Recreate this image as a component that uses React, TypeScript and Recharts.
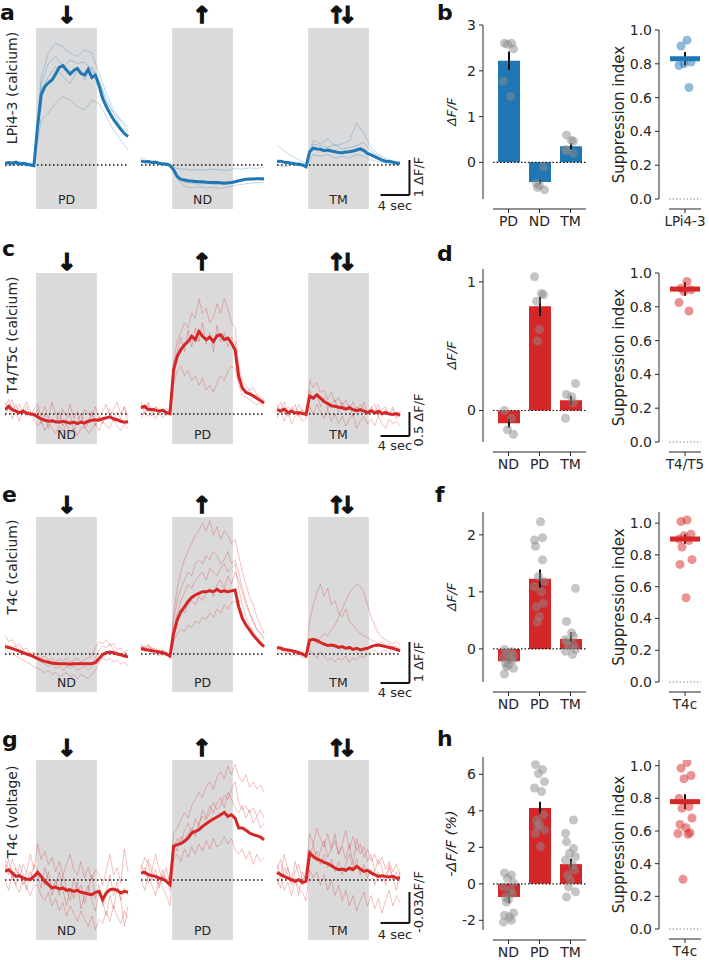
import React from "react";
import {
  Bar,
  ComposedChart,
  ErrorBar,
  Line,
  LineChart,
  ReferenceArea,
  ReferenceLine,
  Scatter,
  XAxis,
  YAxis,
} from "recharts";

const FONT = "'DejaVu Sans', Verdana, sans-serif";
const INK = "#262626";
const BLUE = "#1f77b4";
const RED = "#d62728";
const STIM_GRAY = "#dadada";

// time axis of the traces, seconds (one panel = 17 s, stimulus 4.3 - 12.7 s)
const STEP = 0.5;
const STIM_ON = 4.3;
const STIM_OFF = 12.7;
const TRACE_LEN = 17;
const PANEL_START = [0, 18.8, 37.6];
const SCALE_X = [51.9, 55.9];

// ---- a: LPi4-3 calcium (dF/F), mean every 0.5 s, single flies every 1 s
const A_PD_MEAN = [0.05, 0.07, 0.05, 0.08, 0.03, 0.05, 0.02, 0, -0.02, 1.1, 2.0, 2.24, 2.35, 2.43, 2.6, 2.79, 2.84, 2.71, 2.6, 2.7, 2.76, 2.62, 2.57, 2.73, 2.5, 2.57, 2.26, 1.9, 1.67, 1.48, 1.3, 1.16, 1.02, 0.9, 0.81];
const A_PD_FLIES = [
  [0.05, 0.1, 0, 0.08, 0.02, 2.5, 3.2, 3.48, 3.38, 3.2, 3.1, 3.29, 3.2, 2.62, 2.05, 1.57, 1.29, 1.1],
  [-0.05, 0.05, 0, -0.03, 0.03, 1.29, 1.48, 1.76, 1.95, 1.86, 1.67, 1.57, 1.86, 1.76, 1.38, 1.0, 0.71, 0.43],
  [0.08, 0, 0.1, 0.05, -0.02, 2.14, 2.52, 2.81, 2.52, 2.33, 2.71, 2.43, 2.81, 2.43, 1.86, 1.48, 1.1, 0.95],
  [0.02, -0.03, 0.04, 0, 0.05, 2.3, 2.9, 3.1, 2.8, 3.0, 2.9, 2.95, 2.7, 2.4, 1.8, 1.5, 1.25, 1.0],
];
const A_ND_MEAN = [0.11, 0.09, 0.1, 0.07, 0.08, 0.05, 0.03, 0.03, -0.01, -0.14, -0.33, -0.41, -0.43, -0.45, -0.46, -0.47, -0.48, -0.48, -0.49, -0.5, -0.5, -0.5, -0.51, -0.52, -0.51, -0.5, -0.48, -0.45, -0.43, -0.41, -0.4, -0.4, -0.39, -0.39, -0.4];
const A_ND_FLIES = [
  [0.15, 0.05, 0.1, 0.02, 0, -0.1, -0.12, -0.15, -0.13, -0.15, -0.12, -0.14, -0.16, -0.1, -0.12, -0.08, -0.1, -0.05],
  [0.12, 0.08, 0.05, 0.06, 0, -0.4, -0.6, -0.65, -0.62, -0.66, -0.64, -0.67, -0.62, -0.58, -0.55, -0.52, -0.5, -0.5],
  [0.2, 0.1, 0.12, 0.04, 0.02, -0.3, -0.5, -0.52, -0.55, -0.5, -0.56, -0.54, -0.55, -0.5, -0.45, -0.42, -0.38, -0.35],
];
const A_TM_MEAN = [0.1, 0.11, 0.08, 0.07, 0.05, 0.03, 0.02, 0, -0.05, 0.38, 0.48, 0.46, 0.45, 0.41, 0.43, 0.4, 0.38, 0.36, 0.35, 0.37, 0.38, 0.4, 0.43, 0.46, 0.41, 0.33, 0.29, 0.24, 0.19, 0.14, 0.11, 0.1, 0.08, 0.06, 0.05];
const A_TM_FLIES = [
  [0.57, 0.4, 0.25, 0.15, 0.05, 0.7, 0.6, 0.75, 0.55, 0.6, 0.7, 1.2, 0.9, 0.5, 0.3, 0.2, 0.1, 0.05],
  [0, -0.05, 0.02, 0, -0.05, 0.3, 0.25, 0.3, 0.2, 0.25, 0.2, 0.3, 0.25, 0.15, 0.1, 0.05, 0, 0.02],
  [0.15, 0.1, 0.05, 0.08, 0, 0.6, 0.55, 0.5, 0.6, 0.45, 0.5, 0.55, 0.65, 0.4, 0.25, 0.15, 0.12, 0.08],
];

// ---- c: T4/T5c calcium (dF/F), all every 0.5 s
const C_ND_MEAN = [0.09, 0.16, 0.09, 0.06, 0.03, 0.06, 0.02, 0, -0.01, -0.06, -0.1, -0.13, -0.15, -0.14, -0.16, -0.17, -0.15, -0.17, -0.19, -0.17, -0.2, -0.17, -0.19, -0.15, -0.13, -0.12, -0.13, -0.1, -0.08, -0.06, -0.1, -0.12, -0.15, -0.17, -0.16];
const C_ND_FLIES = [
  [0.25, 0.1, 0.3, 0.05, 0.2, 0, 0.15, -0.05, 0.1, 0.2, -0.05, 0.15, -0.1, 0.25, 0, -0.15, 0.1, -0.05, 0.2, -0.1, 0.05, -0.2, 0.1, 0, -0.05, 0.15, -0.1, 0.05, 0.2, -0.05, 0.1, 0.25, 0, 0.15, -0.05],
  [-0.05, 0.15, -0.1, 0.05, -0.15, 0.1, -0.05, 0.05, -0.1, -0.25, -0.15, -0.35, -0.2, -0.3, -0.4, -0.25, -0.35, -0.2, -0.4, -0.3, -0.45, -0.3, -0.25, -0.4, -0.3, -0.2, -0.35, -0.15, -0.25, -0.3, -0.1, -0.25, -0.35, -0.2, -0.3],
  [0.15, 0.3, 0.05, 0.2, 0, 0.1, 0.25, 0.05, -0.05, 0.1, -0.2, 0, -0.3, -0.1, -0.2, 0.05, -0.25, -0.1, 0, -0.35, -0.15, 0, -0.3, -0.2, 0.05, -0.25, -0.05, -0.2, 0, 0.1, -0.15, 0.05, -0.1, 0.15, -0.2],
];
const C_PD_MEAN = [0.13, 0.16, 0.09, 0.1, 0.08, 0.06, 0.08, 0.03, 0.01, 0.92, 1.2, 1.34, 1.44, 1.51, 1.62, 1.55, 1.72, 1.62, 1.55, 1.6, 1.51, 1.63, 1.65, 1.55, 1.58, 1.48, 1.34, 0.78, 0.54, 0.45, 0.42, 0.38, 0.33, 0.28, 0.23];
const C_PD_FLIES = [
  [0.2, 0.1, 0.25, 0.05, 0.15, 0, 0.1, -0.05, 0.1, 1.1, 1.5, 1.7, 1.9, 1.8, 2.1, 2.0, 2.4, 2.1, 2.2, 1.9, 2.0, 2.3, 2.1, 2.4, 2.2, 1.9, 1.8, 1.0, 0.7, 0.6, 0.5, 0.55, 0.4, 0.35, 0.3],
  [-0.1, 0.05, -0.05, 0.1, -0.1, 0, -0.08, 0.05, -0.05, 0.6, 0.9, 1.0, 0.8, 0.9, 0.7, 0.8, 0.6, 0.75, 0.5, 0.6, 0.45, 0.65, 0.8, 0.7, 0.9, 1.0, 0.95, 0.6, 0.4, 0.35, 0.3, 0.25, 0.2, 0.22, 0.15],
  [0.25, 0, 0.2, -0.05, 0.15, 0.1, 0, 0.12, 0.05, 1.0, 1.3, 1.6, 1.3, 1.75, 1.4, 1.8, 1.5, 1.9, 1.45, 1.7, 1.3, 1.85, 1.5, 1.7, 1.4, 1.6, 1.5, 0.8, 0.6, 0.45, 0.5, 0.35, 0.4, 0.25, 0.3],
];
const C_TM_MEAN = [0.09, 0.06, 0.1, 0.03, 0.06, 0.02, 0.03, 0.01, -0.01, 0.37, 0.33, 0.4, 0.33, 0.26, 0.22, 0.17, 0.16, 0.14, 0.13, 0.1, 0.13, 0.09, 0.07, 0.09, 0.06, 0.03, 0.07, 0.02, 0.06, 0.01, 0.03, 0, -0.01, 0.01, -0.03];
const C_TM_FLIES = [
  [0.2, 0.05, 0.25, -0.05, 0.15, 0, 0.2, 0.05, -0.05, 0.7, 0.55, 0.65, 0.45, 0.5, 0.3, 0.45, 0.25, 0.35, 0.15, 0.3, 0.1, 0.25, 0.05, 0.2, 0.1, 0, 0.15, 0.05, 0.2, -0.05, 0.1, 0, 0.15, -0.1, 0.05],
  [-0.1, 0.1, -0.15, 0.05, -0.2, -0.05, 0, -0.15, -0.1, 0.15, 0, 0.2, 0.05, -0.1, 0.1, -0.15, 0, -0.2, -0.05, -0.25, -0.1, 0, -0.3, -0.15, -0.05, -0.2, -0.1, -0.25, -0.05, -0.2, -0.3, -0.1, -0.2, -0.15, -0.25],
  [0.1, 0.25, 0, 0.15, 0.05, 0.2, -0.05, 0.1, 0, 0.5, 0.3, 0.4, 0.15, 0.35, 0.1, 0.2, 0.3, 0.05, 0.25, 0.1, 0.2, -0.05, 0.15, 0.05, 0.25, 0, 0.1, 0.2, -0.05, 0.1, 0.15, 0, 0.1, -0.05, 0.05],
];

// ---- e: T4c calcium (dF/F)
const E_ND_MEAN = [0.18, 0.16, 0.13, 0.1, 0.07, 0.03, 0, -0.03, -0.07, -0.11, -0.15, -0.18, -0.2, -0.22, -0.23, -0.24, -0.24, -0.24, -0.25, -0.24, -0.24, -0.24, -0.24, -0.24, -0.23, -0.21, -0.11, -0.02, 0.03, 0.05, 0.03, 0, -0.02, -0.05, -0.07];
const E_ND_FLIES = [
  [0.45, 0.3, 0.35, 0.2, 0.25, 0.1, 0.15, 0, 0.05, -0.05, -0.1, -0.05, -0.15, -0.1, -0.2, -0.12, -0.18, -0.1, -0.2, -0.15, -0.1, -0.2, -0.15, -0.1, -0.05, 0.15, 0.3, 0.25, 0.35, 0.2, 0.25, 0.1, 0.15, 0.05, 0.1],
  [0.1, 0.05, 0, -0.05, -0.1, -0.15, -0.2, -0.25, -0.3, -0.35, -0.4, -0.45, -0.4, -0.5, -0.45, -0.55, -0.5, -0.45, -0.55, -0.5, -0.6, -0.5, -0.55, -0.6, -0.5, -0.4, -0.2, -0.1, -0.15, -0.1, -0.2, -0.15, -0.25, -0.2, -0.3],
  [0.25, 0.2, 0.15, 0.2, 0.05, 0.1, -0.05, 0, -0.1, -0.15, -0.2, -0.25, -0.3, -0.25, -0.35, -0.3, -0.4, -0.3, -0.35, -0.3, -0.4, -0.35, -0.3, -0.4, -0.3, -0.1, 0.1, 0.2, 0.15, 0.25, 0.1, 0.05, 0, 0.05, -0.1],
];
const E_PD_MEAN = [0.14, 0.11, 0.1, 0.08, 0.07, 0.05, 0.03, 0, -0.05, 0.5, 0.83, 1.03, 1.15, 1.28, 1.38, 1.44, 1.48, 1.52, 1.52, 1.54, 1.52, 1.58, 1.52, 1.54, 1.52, 1.54, 1.56, 1.15, 0.87, 0.71, 0.59, 0.46, 0.36, 0.26, 0.18];
const E_PD_FLIES = [
  [0.2, 0.15, 0.25, 0.1, 0.15, 0.05, 0.1, 0, -0.05, 1.0, 1.6, 2.0, 2.3, 2.5, 2.7, 2.9, 3.0, 3.2, 3.0, 3.25, 2.9, 3.1, 2.8, 3.0, 2.9, 2.7, 2.8, 2.4, 2.0, 1.7, 1.4, 1.2, 0.9, 0.7, 0.5],
  [0.1, 0.2, 0.05, 0.15, 0, 0.1, -0.05, 0.05, -0.1, 0.8, 1.3, 1.6, 1.8, 2.0, 1.9, 2.2, 2.3, 2.2, 2.4, 2.3, 2.5, 2.4, 2.2, 2.3, 2.5, 2.2, 2.3, 2.0, 1.6, 1.3, 1.0, 0.8, 0.6, 0.5, 0.35],
  [0.25, 0.1, 0.2, 0.15, 0.05, 0.1, 0, 0.05, -0.05, 0.3, 0.5, 0.6, 0.55, 0.7, 0.65, 0.8, 0.75, 0.9, 0.85, 1.0, 0.9, 1.1, 1.0, 1.2, 1.1, 1.25, 1.3, 1.1, 0.85, 0.7, 0.55, 0.45, 0.35, 0.25, 0.15],
  [0.05, 0.15, 0.1, 0, 0.1, -0.05, 0.05, -0.05, 0, 0.5, 0.9, 1.1, 1.0, 1.2, 1.3, 1.2, 1.4, 1.3, 1.5, 1.6, 1.4, 1.7, 1.8, 1.6, 1.9, 1.7, 2.0, 1.8, 1.5, 1.2, 1.0, 0.8, 0.6, 0.5, 0.4],
  [0.15, 0.05, 0.2, 0.1, 0, 0.05, 0.1, -0.05, 0, 0.6, 1.0, 1.3, 1.5, 1.7, 1.6, 1.8, 1.9, 2.0, 1.8, 2.1, 2.0, 1.9, 2.1, 2.2, 2.0, 2.1, 2.2, 1.6, 1.2, 0.9, 0.7, 0.55, 0.4, 0.3, 0.2],
];
const E_TM_MEAN = [0.16, 0.14, 0.11, 0.1, 0.08, 0.06, 0.03, 0, -0.05, 0.34, 0.36, 0.33, 0.28, 0.24, 0.21, 0.22, 0.2, 0.16, 0.18, 0.14, 0.16, 0.11, 0.14, 0.1, 0.12, 0.14, 0.18, 0.21, 0.22, 0.2, 0.18, 0.16, 0.14, 0.11, 0.08];
const E_TM_FLIES = [
  [0.15, 0.2, 0.1, 0.05, 0.12, 0, 0.08, -0.05, 0, 0.8, 1.2, 1.5, 1.7, 1.4, 1.6, 1.2, 1.3, 1.0, 0.9, 1.1, 0.8, 0.7, 0.6, 0.5, 0.45, 0.4, 0.35, 0.3, 0.25, 0.3, 0.2, 0.25, 0.15, 0.2, 0.1],
  [0.1, 0, 0.15, 0.05, -0.05, 0.1, 0, 0.05, -0.1, 0.3, 0.35, 0.25, 0.4, 0.5, 0.45, 0.6, 0.7, 0.9, 1.1, 1.3, 1.5, 1.6, 1.7, 1.65, 1.5, 1.2, 0.9, 0.7, 0.5, 0.4, 0.35, 0.3, 0.25, 0.3, 0.2],
  [0.2, 0.1, 0.05, 0, 0.1, -0.05, 0, -0.1, -0.05, 0.1, 0, -0.1, 0.05, -0.05, -0.15, -0.1, -0.2, -0.1, -0.15, -0.05, -0.2, -0.1, -0.15, -0.05, -0.1, 0, 0.05, 0.1, 0, 0.05, 0.1, 0, 0.2, 0.1, 0.05],
];

// ---- g: T4c voltage (-dF/F, %)
const G_ND_MEAN = [0.84, 1.0, 0.68, 0.35, 0.42, 0.19, 0.1, 0.03, 0.35, 0.74, 0.35, -0.13, -0.45, -0.77, -0.68, -0.87, -0.77, -1.0, -0.94, -1.1, -1.0, -1.19, -1.26, -1.35, -1.42, -1.19, -1.1, -1.9, -1.26, -0.94, -0.87, -1.0, -1.26, -1.1, -1.19];
const G_ND_FLIES = [
  [1.5, 0.5, 2.0, 1.0, 0.2, 1.5, 0.8, 2.5, 1.0, 3.5, 2.0, 2.8, 1.5, 2.2, 0.8, 1.8, 0.5, 1.5, 2.5, 1.0, 0.5, 1.8, 0.2, 1.2, 0, 1.0, 0.5, -0.5, 1.0, 2.5, 0.5, 1.2, -0.3, 3.0, 0.8],
  [0, -1.0, 0.5, -0.5, -1.2, 0.2, -0.8, -1.5, -0.5, -0.5, -1.5, -2.0, -1.2, -2.5, -1.8, -3.0, -2.2, -3.5, -2.5, -3.2, -4.0, -3.0, -3.8, -4.5, -3.5, -4.8, -3.8, -4.2, -3.0, -4.0, -2.5, -3.5, -4.2, -3.0, -3.8],
  [1.0, 2.0, 0, 1.2, 0.5, -0.5, 0.8, 0, 1.5, 1.0, 0.2, -0.5, 0.8, -1.0, 0, -1.5, 0.5, -0.8, -2.0, 0.2, -1.2, -0.5, -2.2, -1.0, 0.5, -1.8, -0.5, -2.5, -1.0, 0.5, -1.5, -0.2, -2.0, -0.8, -1.5],
  [2.0, 1.0, 0.5, -0.5, 1.5, 0.5, -1.0, 0.8, -0.2, 0.5, -0.8, 1.2, 0, -1.5, -0.5, 0.8, -1.0, -2.5, -0.8, -1.8, -0.2, -2.8, -1.5, -0.5, -2.0, -3.0, -1.2, -2.2, -3.5, -1.5, -2.8, -0.8, -1.8, -4.5, -2.5],
];
const G_PD_MEAN = [0.68, 0.74, 0.52, 0.42, 0.35, 0.19, 0.1, -0.13, -0.45, 3.26, 3.42, 3.52, 3.74, 4.06, 4.55, 4.71, 4.87, 5.19, 5.45, 5.68, 5.9, 6.1, 6.32, 6.55, 6.16, 6.32, 6.0, 5.03, 5.03, 4.81, 4.55, 4.39, 4.29, 4.16, 3.9];
const G_PD_FLIES = [
  [1.5, 0.5, 2.0, 0.8, 2.5, 1.0, 0, 1.2, -0.5, 4.5, 5.0, 5.8, 6.5, 6.0, 7.2, 7.8, 8.5, 8.0, 9.0, 9.5, 8.8, 10.0, 10.5, 9.8, 11.0, 10.2, 11.2, 10.0, 9.5, 10.2, 9.0, 9.5, 8.8, 9.2, 8.5],
  [0, -1.0, 0.5, -0.5, -1.5, 0.3, -0.8, -1.5, -2.5, 2.0, 2.5, 1.8, 3.0, 2.2, 3.2, 2.5, 3.5, 2.8, 3.8, 3.0, 4.0, 3.2, 3.5, 4.2, 3.5, 4.0, 3.0, 2.5, 3.0, 2.0, 2.8, 1.5, 2.5, 1.8, 2.2],
  [1.0, 2.2, 1.5, 0, 1.0, -0.5, 0.5, 0, -1.0, 3.0, 4.0, 3.5, 4.8, 5.5, 4.5, 6.0, 5.2, 6.8, 6.0, 7.2, 6.5, 7.5, 8.0, 7.0, 8.5, 7.8, 7.0, 6.5, 7.2, 6.0, 6.8, 5.5, 6.2, 5.0, 5.5],
  [0.5, 1.2, -0.3, 0.8, 0.2, -0.8, 1.0, -0.2, 0.5, 3.5, 2.8, 4.2, 3.8, 4.5, 5.0, 4.2, 5.5, 6.2, 5.8, 6.5, 7.5, 6.8, 7.2, 8.2, 7.8, 8.8, 9.5, 7.5, 6.8, 7.2, 6.5, 7.0, 6.2, 6.8, 6.0],
];
const G_TM_MEAN = [0.74, 0.52, 0.35, 0.19, 0.03, -0.13, 0.03, -0.23, -0.13, 2.61, 2.29, 2.03, 1.9, 1.71, 1.58, 1.39, 1.16, 1.0, 1.06, 0.94, 1.16, 1.0, 1.32, 1.06, 0.84, 0.94, 0.68, 0.52, 0.35, 0.42, 0.35, 0.29, 0.35, 0.19, 0.19];
const G_TM_FLIES = [
  [1.5, 0.5, 2.5, 1.0, 0, 1.8, 0.5, -0.5, 1.0, 4.5, 3.5, 5.0, 4.0, 3.2, 4.5, 3.0, 3.8, 2.5, 3.5, 4.8, 3.0, 4.2, 2.8, 3.5, 2.2, 3.0, 1.8, 2.5, 1.5, 2.2, 1.0, 1.8, 0.8, 1.5, 0.5],
  [-0.5, 0.5, -1.0, -0.2, -1.5, 0, -0.8, -1.2, -2.0, 1.0, 0.2, 0.8, -0.5, 0.5, -1.0, 0, -1.5, -0.5, -2.0, -1.0, -2.5, -1.5, -3.0, -2.0, -1.2, -2.5, -1.5, -2.8, -1.8, -3.2, -2.0, -1.0, -2.5, -1.5, -2.2],
  [1.0, 2.0, 0.2, 1.2, -0.3, 0.8, 1.5, 0, 0.5, 3.0, 2.0, 2.8, 1.5, 2.5, 1.2, 2.0, 0.8, 1.8, 0.5, 1.5, 2.5, 1.0, 2.0, 0.5, 1.5, 0.2, 1.0, -0.5, 0.8, -0.2, 0.5, 1.2, 0, 0.8, -0.3],
  [0.2, -0.8, 1.2, 0.5, -0.5, 0.2, -1.5, 0.8, -0.2, 2.0, 3.5, 1.8, 2.8, 3.8, 2.2, 3.0, 4.5, 2.5, 3.2, 2.0, 3.5, 1.5, 4.0, 2.5, 3.2, 1.8, 2.5, 0.8, 2.0, 1.2, -0.5, 1.5, 0.2, -1.0, 0.8],
];

// ---- bar summaries (b, d, f, h)
const B_CATS = ["PD", "ND", "TM"];
const B_MEAN = [2.22, -0.43, 0.35];
const B_SEM = [0.2, 0.05, 0.07];
const B_FLIES = [
  [2.6, 2.6, 2.58, 2.48, 1.77, 1.44],
  [-0.1, -0.46, -0.5, -0.55, -0.6],
  [0.6, 0.48, 0.46, 0.28, 0.25, 0.2],
];
const D_CATS = ["ND", "PD", "TM"];
const D_MEAN = [-0.1, 0.81, 0.08];
const D_SEM = [0.035, 0.075, 0.035];
const D_FLIES = [
  [0, -0.06, -0.15, -0.185],
  [1.04, 0.91, 0.9, 0.85, 0.63, 0.54],
  [0.21, 0.125, 0.107, 0.06, -0.06],
];
const F_CATS = ["ND", "PD", "TM"];
const F_MEAN = [-0.215, 1.23, 0.175];
const F_SEM = [0.035, 0.16, 0.115];
const F_FLIES = [
  [-0.01, -0.05, -0.08, -0.12, -0.15, -0.18, -0.2, -0.25, -0.28, -0.31, -0.34, -0.44],
  [2.23, 1.95, 1.91, 1.8, 1.56, 1.27, 1.18, 1.09, 1.0, 0.8, 0.74, 0.57, 0.47],
  [1.06, 0.48, 0.28, 0.22, 0.16, 0.12, 0.08, 0.05, -0.01, -0.04, -0.1],
];
const H_CATS = ["ND", "PD", "TM"];
const H_MEAN = [-0.72, 4.15, 1.08];
const H_SEM = [0.33, 0.35, 0.3];
const H_FLIES = [
  [0.6, 0.48, 0.3, 0.05, -0.17, -0.35, -0.53, -0.72, -0.86, -1.0, -1.6, -1.72, -1.82, -2.0, -2.1],
  [6.53, 6.26, 6.04, 5.6, 5.25, 5.06, 3.78, 3.5, 3.28, 3.14, 2.95, 2.77, 2.04],
  [3.5, 2.77, 2.31, 1.94, 1.67, 1.49, 1.3, 1.03, 0.75, 0.48, 0.2, -0.17, -0.44, -0.72],
];

// ---- suppression index
const SI_B = { cat: "LPi4-3", mean: 0.83, sem: 0.04, flies: [0.94, 0.905, 0.81, 0.8, 0.79, 0.66] };
const SI_D = { cat: "T4/T5", mean: 0.905, sem: 0.04, flies: [0.95, 0.91, 0.9, 0.89, 0.825, 0.775] };
const SI_F = { cat: "T4c", mean: 0.9, sem: 0.03, flies: [1.02, 1.01, 0.93, 0.92, 0.9, 0.89, 0.85, 0.77, 0.74, 0.53] };
const SI_H = { cat: "T4c", mean: 0.78, sem: 0.045, flies: [1.02, 0.985, 0.94, 0.92, 0.8, 0.75, 0.74, 0.68, 0.64, 0.62, 0.59, 0.585, 0.58, 0.305] };

// horizontal jitter of single-fly dots (px)
const JITTER = [-4, 3, -1, 5, -5, 2, 4, -3, 0, -2, 5, -4, 1, 3, -5];
const SI_JITTER = [2, -4, 6, -1, -6, 4, -3, 7, -5, 1, 5, -7, 3, -2];

type TracePanel = { label: string; mean: number[]; flies: number[][] };

const toPts = (vals: number[], start: number, step: number) =>
  vals.map((v, i) => ({ t: start + i * step, v }));

function TraceRow(props: {
  top: number;
  bottom: number;
  domain: [number, number];
  color: string;
  flyStep: number;
  panels: TracePanel[];
  barY: number;
  barLen: number;
}) {
  const { top, bottom, domain, color, flyStep, panels, barY, barLen } = props;
  return (
    <div style={{ position: "absolute", left: 5, top }}>
      <LineChart width={407} height={bottom - top} margin={{ top: 0, right: 0, bottom: 0, left: 0 }}>
        <XAxis type="number" dataKey="t" domain={[0, 56.25]} hide allowDataOverflow />
        <YAxis type="number" domain={domain} hide allowDataOverflow />
        {panels.map((p, k) => (
          <ReferenceArea
            key={"stim" + k}
            x1={PANEL_START[k] + STIM_ON}
            x2={PANEL_START[k] + STIM_OFF}
            fill={STIM_GRAY}
            fillOpacity={1}
            stroke="none"
            label={{ value: p.label, position: "insideBottom", offset: 5, fill: INK, fontSize: 12.5, fontFamily: FONT }}
          />
        ))}
        {panels.flatMap((p, k) =>
          p.flies.map((f, j) => (
            <Line
              key={`fly${k}-${j}`}
              data={toPts(f, PANEL_START[k], flyStep)}
              dataKey="v"
              type="linear"
              stroke={color}
              strokeOpacity={0.32}
              strokeWidth={0.9}
              dot={false}
              isAnimationActive={false}
            />
          ))
        )}
        {panels.map((p, k) => (
          <ReferenceLine
            key={"base" + k}
            segment={[{ x: PANEL_START[k], y: 0 }, { x: PANEL_START[k] + TRACE_LEN, y: 0 }]}
            stroke="#111"
            strokeWidth={1.3}
            strokeDasharray="1.5 2.5"
          />
        ))}
        {panels.map((p, k) => (
          <Line
            key={"mean" + k}
            data={toPts(p.mean, PANEL_START[k], STEP)}
            dataKey="v"
            type="linear"
            stroke={color}
            strokeWidth={3}
            dot={false}
            isAnimationActive={false}
          />
        ))}
        <ReferenceLine
          segment={[{ x: SCALE_X[0], y: barY }, { x: SCALE_X[1], y: barY }]}
          stroke="#111"
          strokeWidth={2}
        />
        <ReferenceLine
          segment={[{ x: SCALE_X[1], y: barY }, { x: SCALE_X[1], y: barY + barLen }]}
          stroke="#111"
          strokeWidth={2}
        />
      </LineChart>
    </div>
  );
}

const tickStyle = { fill: INK, fontSize: 14, fontFamily: FONT };

function BarPanel(props: {
  top: number;
  bottom: number;
  domain: [number, number];
  ticks: number[];
  cats: string[];
  means: number[];
  sems: number[];
  flies: number[][];
  color: string;
  yLabel: string;
  yLabelSize: number;
}) {
  const { top, bottom, domain, ticks, cats, means, sems, flies, color, yLabel, yLabelSize } = props;
  const data = cats.map((c, i) => ({ cat: c, mean: means[i], sem: sems[i] }));
  const dots = cats.flatMap((c, i) => flies[i].map((v) => ({ cat: c, v })));
  const dotShape = (p: any) => {
    const i = Math.max(0, dots.indexOf(p.payload));
    return <circle cx={p.cx + JITTER[i % JITTER.length]} cy={p.cy} r={4.5} fill="#8c8c8c" fillOpacity={0.5} />;
  };
  return (
    <div style={{ position: "absolute", left: 440, top: top - 8 }}>
      <ComposedChart width={146} height={bottom - top + 8 + 10 + 36} data={data} margin={{ top: 8, right: 0, bottom: 0, left: 0 }}>
        <XAxis xAxisId="p" dataKey="cat" type="category" allowDuplicatedCategory={false} height={10} axisLine={false} tickLine={false} tick={false} />
        <XAxis xAxisId="s" dataKey="cat" type="category" allowDuplicatedCategory={false} height={36} axisLine={{ stroke: INK }} tickLine={{ stroke: INK }} tickSize={4} tickMargin={3} tick={tickStyle} />
        <YAxis yAxisId="p" type="number" domain={domain} allowDataOverflow width={10} axisLine={false} tickLine={false} tick={false} />
        <YAxis
          yAxisId="s"
          type="number"
          domain={domain}
          ticks={ticks}
          allowDataOverflow
          width={43}
          axisLine={{ stroke: INK }}
          tickLine={{ stroke: INK }}
          tickSize={4}
          tickMargin={3}
          tick={tickStyle}
          label={{ value: yLabel, angle: -90, position: "insideLeft", offset: 11, fill: INK, fontSize: yLabelSize, fontFamily: FONT, style: { textAnchor: "middle", fontStyle: "italic" } }}
        />
        <ReferenceLine xAxisId="p" yAxisId="p" y={0} stroke="#111" strokeWidth={1.1} strokeDasharray="1.5 2" />
        <Bar xAxisId="p" yAxisId="p" dataKey="mean" fill={color} barSize={22} isAnimationActive={false}>
          <ErrorBar dataKey="sem" width={0} stroke="#111" strokeWidth={2} />
        </Bar>
        <Scatter xAxisId="p" yAxisId="p" data={dots} dataKey="v" shape={dotShape} isAnimationActive={false} />
      </ComposedChart>
    </div>
  );
}

function SIPanel(props: {
  top: number;
  bottom: number;
  domain: [number, number];
  si: { cat: string; mean: number; sem: number; flies: number[] };
  color: string;
}) {
  const { top, bottom, domain, si, color } = props;
  const dots = si.flies.map((v) => ({ cat: si.cat, v }));
  const meanRow = [{ cat: si.cat, v: si.mean, sem: si.sem }];
  const dotShape = (p: any) => {
    const i = Math.max(0, dots.indexOf(p.payload));
    return <circle cx={p.cx + SI_JITTER[i % SI_JITTER.length]} cy={p.cy} r={4.5} fill={color} fillOpacity={0.5} />;
  };
  const meanShape = (p: any) => <rect x={p.cx - 15} y={p.cy - 2.5} width={30} height={5} fill={color} />;
  return (
    <div style={{ position: "absolute", left: 600, top: top - 8 }}>
      <ComposedChart width={109} height={bottom - top + 8 + 10 + 36} data={meanRow} margin={{ top: 8, right: 8, bottom: 0, left: 0 }}>
        <XAxis xAxisId="p" dataKey="cat" type="category" allowDuplicatedCategory={false} height={10} axisLine={false} tickLine={false} tick={false} />
        <XAxis xAxisId="s" dataKey="cat" type="category" allowDuplicatedCategory={false} height={36} axisLine={{ stroke: INK }} tickLine={{ stroke: INK }} tickSize={4} tickMargin={3} tick={{ ...tickStyle, fontSize: 13.5 }} />
        <YAxis yAxisId="p" type="number" domain={domain} allowDataOverflow width={10} axisLine={false} tickLine={false} tick={false} />
        <YAxis
          yAxisId="s"
          type="number"
          domain={domain}
          ticks={[0, 0.2, 0.4, 0.6, 0.8, 1.0]}
          tickFormatter={(v: number) => v.toFixed(1)}
          allowDataOverflow
          width={59}
          axisLine={{ stroke: INK }}
          tickLine={{ stroke: INK }}
          tickSize={4}
          tickMargin={3}
          tick={tickStyle}
          label={{ value: "Suppression index", angle: -90, position: "insideLeft", offset: 19, fill: INK, fontSize: 15, fontFamily: FONT, style: { textAnchor: "middle" } }}
        />
        <ReferenceLine xAxisId="p" yAxisId="p" y={0} stroke="#8a8a8a" strokeWidth={1} strokeDasharray="1.5 2" />
        <Scatter xAxisId="p" yAxisId="p" data={dots} dataKey="v" shape={dotShape} isAnimationActive={false} />
        <Scatter xAxisId="p" yAxisId="p" data={meanRow} dataKey="v" shape={meanShape} isAnimationActive={false}>
          <ErrorBar dataKey="sem" direction="y" width={0} stroke="#111" strokeWidth={2} />
        </Scatter>
      </ComposedChart>
    </div>
  );
}

const abs = (x: number, y: number, extra: React.CSSProperties = {}): React.CSSProperties => ({
  position: "absolute",
  left: x,
  top: y,
  fontFamily: FONT,
  color: "#111",
  whiteSpace: "nowrap",
  lineHeight: 1,
  ...extra,
});

function Rotated({ x, y, text, size }: { x: number; y: number; text: string; size: number }) {
  return <div style={abs(x, y, { fontSize: size, transform: "translate(-50%, -50%) rotate(-90deg)", color: INK })}>{text}</div>;
}

function Arrows({ y }: { y: number }) {
  const st: React.CSSProperties = {
    fontSize: 23,
    fontWeight: 700,
    transform: "translate(-50%, -50%)",
    WebkitTextStroke: "1.3px #111",
  };
  return (
    <>
      <div style={abs(67, y, st)}>↓</div>
      <div style={abs(202, y, st)}>↑</div>
      <div style={abs(338, y, { ...st, letterSpacing: -8 })}>↑↓</div>
    </>
  );
}

function ScaleText({ y, vy, label }: { y: number; vy: number; label: string }) {
  return (
    <>
      <div style={abs(395, y, { fontSize: 13, transform: "translate(-50%, -50%)", color: INK })}>4 sec</div>
      <Rotated x={418} y={vy} text={label} size={13} />
    </>
  );
}

export default function App() {
  const letters = [
    ["a", 0, 2], ["b", 437, 2], ["c", 2, 238], ["d", 437, 243],
    ["e", 2, 484], ["f", 435, 484], ["g", 2, 729], ["h", 437, 728],
  ] as const;
  return (
    <div style={{ position: "absolute", left: 0, top: 0, width: 709, height: 960, background: "#fff", overflow: "hidden" }}>
      <TraceRow
        top={28} bottom={209} domain={[-1.257, 3.914]} color={BLUE} flyStep={1} barY={-0.857} barLen={1}
        panels={[
          { label: "PD", mean: A_PD_MEAN, flies: A_PD_FLIES },
          { label: "ND", mean: A_ND_MEAN, flies: A_ND_FLIES },
          { label: "TM", mean: A_TM_MEAN, flies: A_TM_FLIES },
        ]}
      />
      <TraceRow
        top={273} bottom={444} domain={[-0.625, 2.9375]} color={RED} flyStep={STEP} barY={-0.458} barLen={0.5}
        panels={[
          { label: "ND", mean: C_ND_MEAN, flies: C_ND_FLIES },
          { label: "PD", mean: C_PD_MEAN, flies: C_PD_FLIES },
          { label: "TM", mean: C_TM_MEAN, flies: C_TM_FLIES },
        ]}
      />
      <TraceRow
        top={517} bottom={692} domain={[-0.927, 3.341]} color={RED} flyStep={STEP} barY={-0.707} barLen={1}
        panels={[
          { label: "ND", mean: E_ND_MEAN, flies: E_ND_FLIES },
          { label: "PD", mean: E_PD_MEAN, flies: E_PD_FLIES },
          { label: "TM", mean: E_TM_MEAN, flies: E_TM_FLIES },
        ]}
      />
      <TraceRow
        top={760} bottom={940} domain={[-5.81, 11.62]} color={RED} flyStep={STEP} barY={-4.16} barLen={3}
        panels={[
          { label: "ND", mean: G_ND_MEAN, flies: G_ND_FLIES },
          { label: "PD", mean: G_PD_MEAN, flies: G_PD_FLIES },
          { label: "TM", mean: G_TM_MEAN, flies: G_TM_FLIES },
        ]}
      />

      <BarPanel top={25} bottom={199} domain={[-0.8, 3]} ticks={[0, 1, 2, 3]} cats={B_CATS} means={B_MEAN} sems={B_SEM} flies={B_FLIES} color={BLUE} yLabel="ΔF/F" yLabelSize={13} />
      <BarPanel top={269} bottom={442} domain={[-0.245, 1.1]} ticks={[0, 1]} cats={D_CATS} means={D_MEAN} sems={D_SEM} flies={D_FLIES} color={RED} yLabel="ΔF/F" yLabelSize={13} />
      <BarPanel top={512} bottom={682} domain={[-0.58, 2.4]} ticks={[0, 1, 2]} cats={F_CATS} means={F_MEAN} sems={F_SEM} flies={F_FLIES} color={RED} yLabel="ΔF/F" yLabelSize={13} />
      <BarPanel top={757} bottom={930} domain={[-2.53, 6.95]} ticks={[-2, 0, 2, 4, 6]} cats={H_CATS} means={H_MEAN} sems={H_SEM} flies={H_FLIES} color={RED} yLabel="-ΔF/F (%)" yLabelSize={14.5} />

      <SIPanel top={30} bottom={199} domain={[0, 1]} si={SI_B} color={BLUE} />
      <SIPanel top={273} bottom={442} domain={[0, 1]} si={SI_D} color={RED} />
      <SIPanel top={512} bottom={682} domain={[0, 1.07]} si={SI_F} color={RED} />
      <SIPanel top={760} bottom={929} domain={[0, 1.035]} si={SI_H} color={RED} />

      {letters.map(([t, x, y]) => (
        <div key={t} style={abs(x, y, { fontSize: 22, fontWeight: 700, lineHeight: "22px" })}>{t}</div>
      ))}

      <Arrows y={15} />
      <Arrows y={262} />
      <Arrows y={505} />
      <Arrows y={748} />

      <Rotated x={12} y={88} text="LPi4-3 (calcium)" size={14} />
      <Rotated x={12} y={335} text="T4/T5c (calcium)" size={14} />
      <Rotated x={12} y={567} text="T4c (calcium)" size={14} />
      <Rotated x={12} y={812} text="T4c (voltage)" size={14} />

      <ScaleText y={205} vy={177} label="1 ΔF/F" />
      <ScaleText y={445} vy={420} label="0.5 ΔF/F" />
      <ScaleText y={692} vy={662} label="1 ΔF/F" />
      <ScaleText y={934} vy={902} label="-0.03ΔF/F" />
    </div>
  );
}
